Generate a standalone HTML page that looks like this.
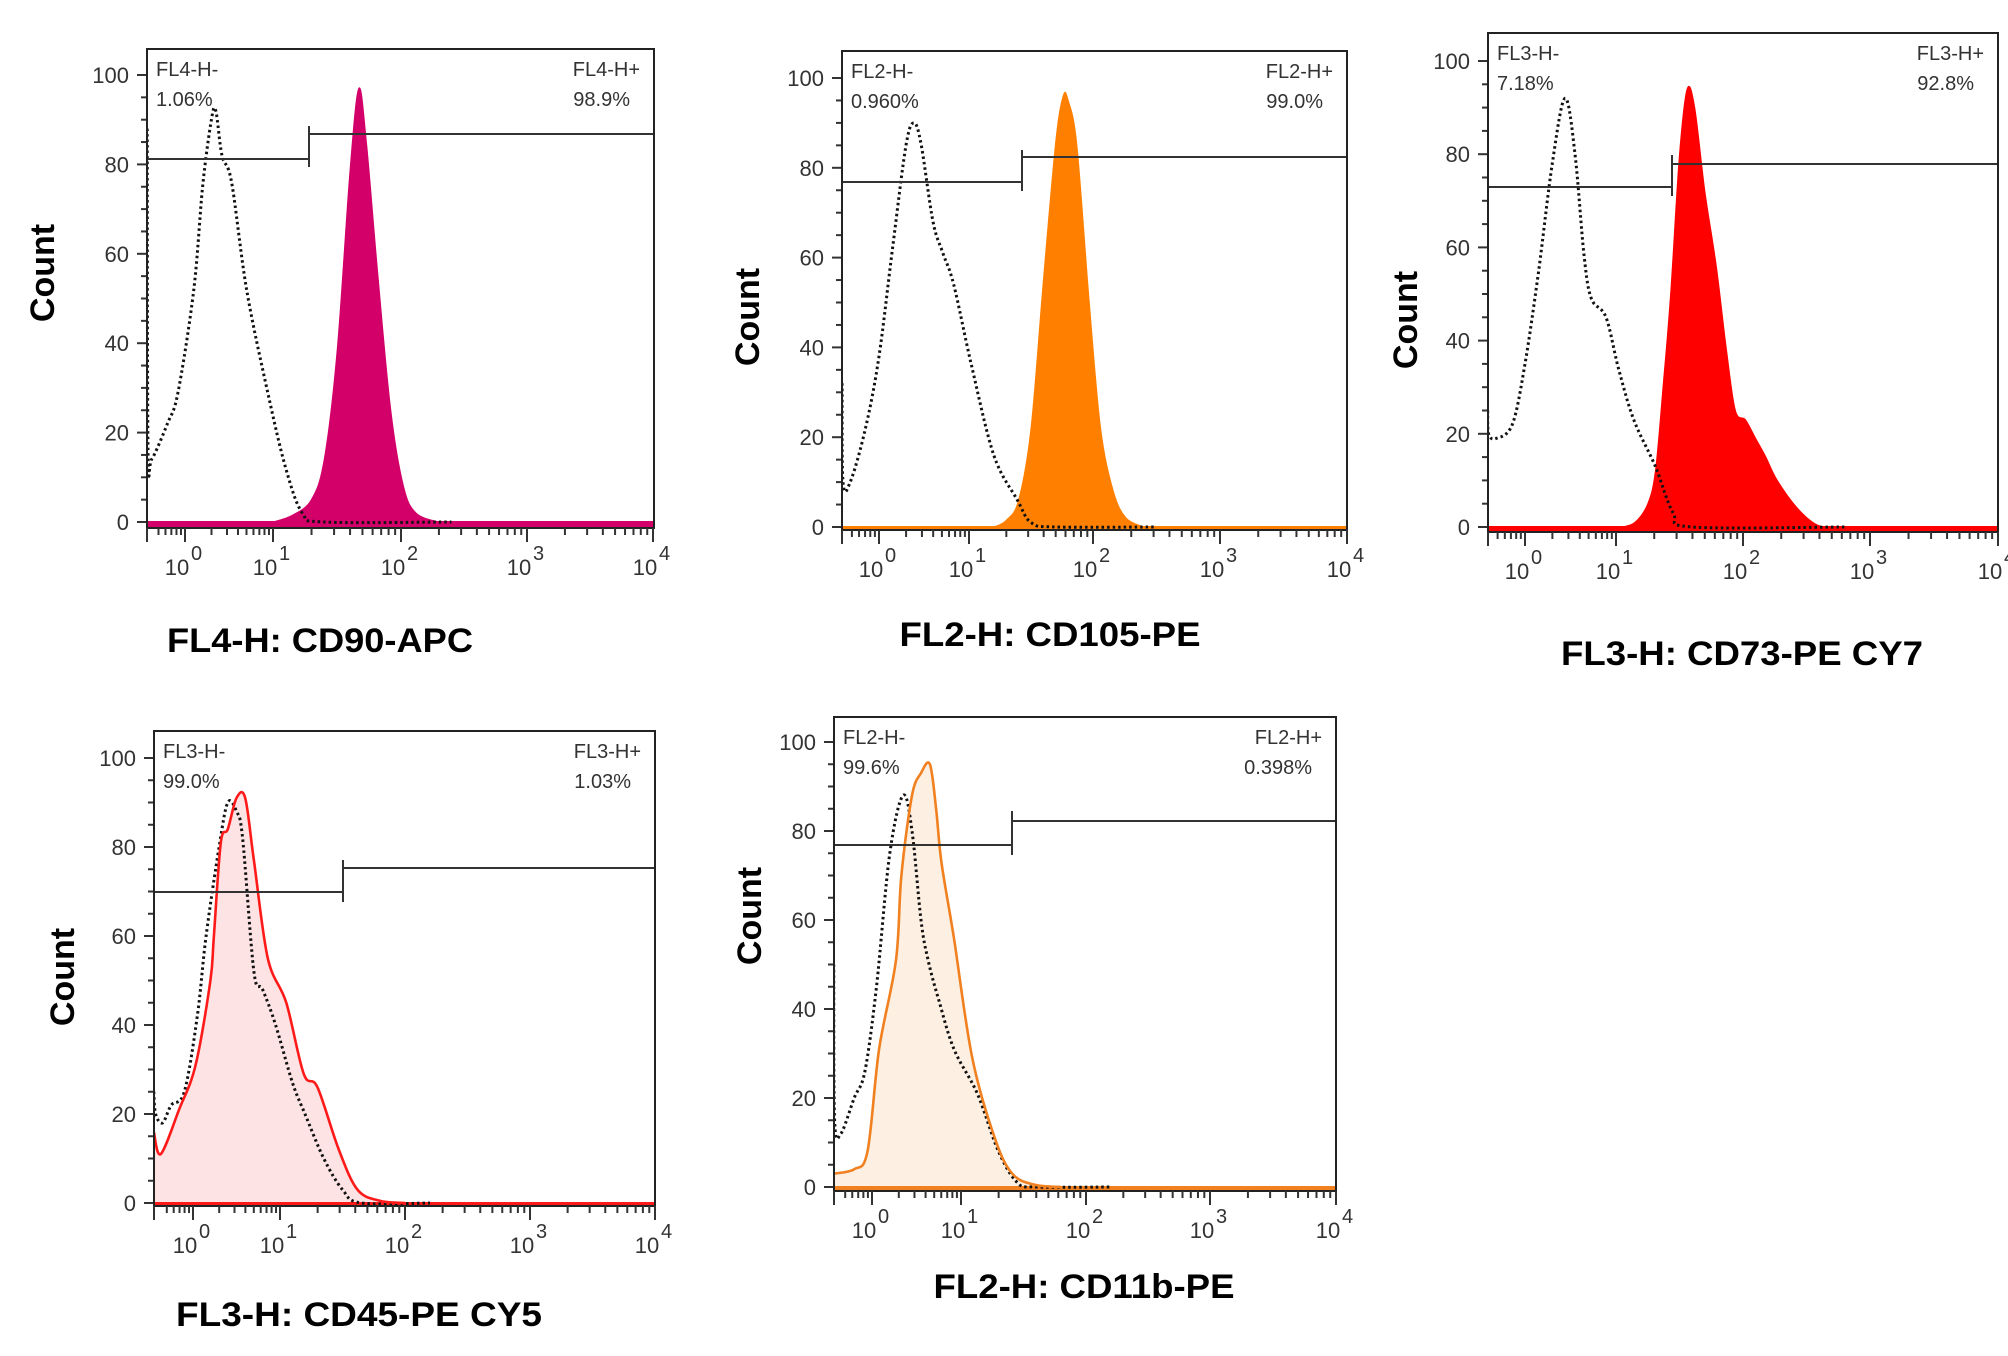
<!DOCTYPE html>
<html><head><meta charset="utf-8"><style>
html,body{margin:0;padding:0;background:#fff;}
svg{display:block;}
text{font-family:"Liberation Sans",Arial,sans-serif;}
</style></head><body>
<svg id="s" width="2008" height="1356" viewBox="0 0 2008 1356" xmlns="http://www.w3.org/2000/svg">
<rect width="2008" height="1356" fill="#fff"/>
</svg>
<script>
const NS="http://www.w3.org/2000/svg";
const S=document.getElementById('s');
function el(t,a,p){const e=document.createElementNS(NS,t);for(const k in a)e.setAttribute(k,a[k]);(p||S).appendChild(e);return e;}
function tx(x,y,str,a){const e=el('text',Object.assign({x:x,y:y},a));e.textContent=str;return e;}
const P=[
{L:147,R:654,T:49,B:528,y0:522,y100:75,dec:[185,273,401,527,653],gate:{ly:159,gx:309,t1:126,t2:167,ry:134},
 n:["FL4-H-","1.06%"],p:["FL4-H+","98.9%"],cnt:[42,273],title:[320,652,"FL4-H: CD90-APC",306],
 fc:"#d4006a",mode:"solid",
 dot:[[-0.43,88],[-0.42,16],[-0.38,14],[-0.2,22],[-0.08,29],[0.1,52],[0.2,75],[0.3,90],[0.35,92],[0.42,82],[0.53,76],[0.7,52],[0.94,29],[1.1,12],[1.23,2],[1.4,0],[2.4,0]],
 fill:[[1.0,0],[1.15,1.5],[1.3,5],[1.4,14],[1.5,38],[1.6,78],[1.67,97],[1.73,85],[1.82,55],[1.92,25],[2.02,8],[2.12,2],[2.3,0]]},
{L:842,R:1347,T:51,B:530,y0:527,y100:78,dec:[879,969,1093,1220,1347],gate:{ly:182,gx:1022,t1:150,t2:191,ry:157},
 n:["FL2-H-","0.960%"],p:["FL2-H+","99.0%"],cnt:[747,317],title:[1050,646,"FL2-H: CD105-PE",301],
 fc:"#ff8000",mode:"solid",
 dot:[[-0.41,32],[-0.40,10],[-0.32,10],[-0.15,22],[0,38],[0.15,62],[0.3,85],[0.39,90],[0.47,85],[0.6,68],[0.71,61],[0.83,54],[1.02,36],[1.2,16],[1.39,6],[1.5,1],[1.7,0],[2.5,0]],
 fill:[[1.2,0],[1.3,1.5],[1.4,6],[1.5,22],[1.6,55],[1.7,86],[1.76,96],[1.8,95],[1.87,85],[1.97,50],[2.06,22],[2.16,8],[2.26,2],[2.4,0]]},
{L:1488,R:1998,T:33,B:532,y0:527,y100:61,dec:[1525,1616,1743,1870,1998],gate:{ly:187,gx:1672,t1:155,t2:196,ry:164},
 n:["FL3-H-","7.18%"],p:["FL3-H+","92.8%"],cnt:[1405,320],title:[1742,665,"FL3-H: CD73-PE CY7",362],
 fc:"#ff0000",mode:"solid",
 dot:[[-0.41,25],[-0.40,20],[-0.32,19],[-0.14,22],[0,35],[0.15,55],[0.3,78],[0.44,92],[0.55,80],[0.65,58],[0.73,49],[0.89,45],[1.02,34],[1.14,23],[1.31,13],[1.45,3],[1.6,0],[2.8,0]],
 fill:[[1.05,0],[1.15,1],[1.25,5],[1.31,12],[1.37,30],[1.43,50],[1.5,80],[1.56,94],[1.62,90],[1.7,72],[1.79,56],[1.87,38],[1.94,25],[2.02,23],[2.1,19],[2.18,15],[2.27,10],[2.43,4],[2.58,0.5],[2.7,0]]},
{L:154,R:655,T:731,B:1206,y0:1203,y100:758,dec:[193,280,405,530,655],gate:{ly:892,gx:343,t1:860,t2:902,ry:868},
 n:["FL3-H-","99.0%"],p:["FL3-H+","1.03%"],cnt:[62,977],title:[359,1326,"FL3-H: CD45-PE CY5",366],
 fc:"#ff1a1a",pale:"#fde3e3",mode:"outline",
 dot:[[-0.45,25],[-0.43,20],[-0.35,18],[-0.25,22],[-0.1,25],[0.05,42],[0.15,60],[0.3,80],[0.4,90],[0.5,88],[0.57,82],[0.7,52],[0.8,48],[0.95,40],[1.1,27],[1.2,20],[1.35,10],[1.5,3],[1.65,0],[2.2,0]],
 fill:[[-0.45,16],[-0.37,11],[-0.16,21],[0.03,31],[0.2,50],[0.24,60],[0.32,81],[0.4,84],[0.5,91],[0.6,91],[0.7,77],[0.86,55],[1.05,45],[1.19,29],[1.3,26],[1.47,12],[1.62,3],[1.8,0.5],[2.0,0]]},
{L:834,R:1336,T:717,B:1191,y0:1187,y100:742,dec:[872,961,1086,1210,1336],gate:{ly:845,gx:1012,t1:811,t2:855,ry:821},
 n:["FL2-H-","99.6%"],p:["FL2-H+","0.398%"],cnt:[749,916],title:[1084,1298,"FL2-H: CD11b-PE",301],
 fc:"#f08020",pale:"#fdf0e3",mode:"outline",
 dot:[[-0.43,50],[-0.42,15],[-0.35,12],[-0.2,20],[-0.08,26],[0.05,45],[0.2,75],[0.35,88],[0.45,80],[0.55,60],[0.63,51],[0.75,42],[0.92,31],[1.13,21],[1.3,8],[1.45,1],[1.6,0],[2.2,0]],
 fill:[[-0.43,3],[-0.2,4],[-0.05,8],[0.08,31],[0.27,51],[0.33,70],[0.45,88],[0.55,93],[0.65,95],[0.72,85],[0.78,73],[0.92,56],[1.09,29],[1.27,11],[1.41,3],[1.59,0.5],[1.8,0]]}
];
function smooth(pts){let d="M"+pts[0][0].toFixed(1)+","+pts[0][1].toFixed(1);
 for(let i=0;i<pts.length-1;i++){const p0=pts[Math.max(0,i-1)],p1=pts[i],p2=pts[i+1],p3=pts[Math.min(pts.length-1,i+2)];
  const c1=[p1[0]+(p2[0]-p0[0])/6,p1[1]+(p2[1]-p0[1])/6],c2=[p2[0]-(p3[0]-p1[0])/6,p2[1]-(p3[1]-p1[1])/6];
  d+=" C"+c1[0].toFixed(1)+","+c1[1].toFixed(1)+" "+c2[0].toFixed(1)+","+c2[1].toFixed(1)+" "+p2[0].toFixed(1)+","+p2[1].toFixed(1);}
 return d;}
P.forEach((c,idx)=>{
 const y0=c.y0, sy=(y0-c.y100)/100;
 const Y=v=>y0-v*sy;
 const X=d=>{if(d<0)return c.dec[0]+d*(c.dec[1]-c.dec[0]);let i=Math.min(3,Math.floor(d));return c.dec[i]+(d-i)*(c.dec[i+1]-c.dec[i]);};
 const cid="clip"+idx;
 const cp=el('clipPath',{id:cid});el('rect',{x:c.L,y:c.T,width:c.R-c.L,height:c.B-c.T},cp);
 const g=el('g',{'clip-path':'url(#'+cid+')'});
 const fp=c.fill.map(p=>[X(p[0]),Y(p[1])]);
 const dLine=smooth(fp);
 const dFill=dLine+" L"+fp[fp.length-1][0].toFixed(1)+","+c.B+" L"+fp[0][0].toFixed(1)+","+c.B+" Z";
 if(c.mode=="solid"){
  el('path',{d:dFill,fill:c.fc,stroke:c.fc,'stroke-width':1},g);
 }else{
  el('path',{d:dFill,fill:c.pale},g);
 }
 el('rect',{x:c.L,y:y0-1,width:c.R-c.L,height:c.B-y0+1,fill:c.fc},g);
 const dp=c.dot.map(p=>[X(p[0]),Y(p[1])]);
 el('path',{d:smooth(dp),fill:'none',stroke:'#111','stroke-width':3,'stroke-dasharray':'2.5 3'},g);
 if(c.mode=="outline") el('path',{d:dLine,fill:'none',stroke:c.fc,'stroke-width':2.6},g);
 const gs={stroke:'#333','stroke-width':2};
 el('line',Object.assign({x1:c.L,y1:c.gate.ly,x2:c.gate.gx,y2:c.gate.ly},gs));
 el('line',Object.assign({x1:c.gate.gx,y1:c.gate.ry,x2:c.R,y2:c.gate.ry},gs));
 el('line',Object.assign({x1:c.gate.gx,y1:c.gate.t1,x2:c.gate.gx,y2:c.gate.t2},gs));
 el('rect',{x:c.L,y:c.T,width:c.R-c.L,height:c.B-c.T,fill:'none',stroke:'#222','stroke-width':2});
 for(let v=0;v<=100;v+=5){const yy=Y(v);const maj=v%20==0;
  el('line',{x1:c.L-(maj?10:6),y1:yy,x2:c.L,y2:yy,stroke:'#333','stroke-width':2});
  if(maj)tx(c.L-18,yy+8,String(v),{'font-size':22,fill:'#333','text-anchor':'end'});}
 el('line',{x1:c.L,y1:c.T,x2:c.L,y2:c.B+12,stroke:'#222','stroke-width':2});
 for(let k=0;k<5;k++){const xx=c.dec[k];
  el('line',{x1:xx,y1:c.B,x2:xx,y2:c.B+14,stroke:'#333','stroke-width':2});
  tx(xx-8,c.B+47,"10",{'font-size':22,fill:'#333','text-anchor':'middle'});
  tx(xx+6,c.B+32,String(k),{'font-size':20,fill:'#333'});
  if(k<4)for(let m=2;m<=9;m++){const xm=X(k+Math.log10(m));el('line',{x1:xm,y1:c.B,x2:xm,y2:c.B+7,stroke:'#333','stroke-width':2});}
 }
 for(let m=5;m<=9;m++){const xm=X(-1+Math.log10(m));if(xm>c.L)el('line',{x1:xm,y1:c.B,x2:xm,y2:c.B+7,stroke:'#333','stroke-width':2});}
 el('line',{x1:c.L,y1:c.B,x2:c.L,y2:c.B+14,stroke:'#333','stroke-width':2});
 tx(c.L+9,c.T+27,c.n[0],{'font-size':20,fill:'#333'});
 tx(c.L+9,c.T+57,c.n[1],{'font-size':20,fill:'#333'});
 tx(c.R-14,c.T+27,c.p[0],{'font-size':20,fill:'#333','text-anchor':'end'});
 tx(c.R-24,c.T+57,c.p[1],{'font-size':20,fill:'#333','text-anchor':'end'});
 tx(0,0,"Count",{'font-size':34,'font-weight':'bold',fill:'#000','text-anchor':'middle',transform:'translate('+(c.cnt[0]+12)+','+c.cnt[1]+') rotate(-90)'});
 tx(c.title[0],c.title[1],c.title[2],{'font-size':34,'font-weight':'bold',fill:'#000','text-anchor':'middle',textLength:c.title[3],lengthAdjust:'spacingAndGlyphs'});
});
</script>
</body></html>
